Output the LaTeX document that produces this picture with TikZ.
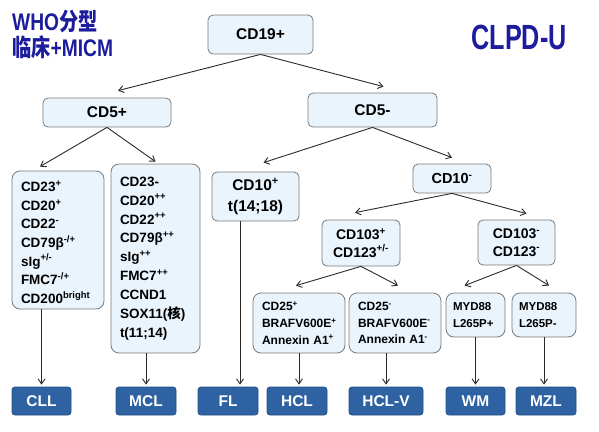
\documentclass[tikz,border=0pt]{standalone}
\usepackage{fontspec}
\setmainfont{Liberation Sans}
\newfontfamily\cjk{Noto Sans CJK SC}
\usetikzlibrary{arrows.meta}
\definecolor{boxfill}{HTML}{E9F4FC}
\definecolor{boxline}{HTML}{7A7A7A}
\definecolor{dxfill}{HTML}{2E62A2}
\definecolor{dxline}{HTML}{1F4F86}
\definecolor{titleblue}{HTML}{1C1C9C}
\definecolor{arrowgray}{HTML}{2A2A2A}

\begin{document}
\begin{tikzpicture}[x=1pt,y=-1pt,
    gatebox/.style={draw=boxline,fill=boxfill,rounded corners=5pt,line width=0.8pt,
        inner sep=0pt,align=center,font=\bfseries\fontsize{15.5}{21}\selectfont},
    listbox/.style={draw=boxline,fill=boxfill,rounded corners=8pt,line width=0.8pt,
        inner xsep=9pt,inner ysep=0pt,align=left},
    dxbox/.style={draw=dxline,fill=dxfill,text=white,rounded corners=3pt,line width=0.8pt,
        inner sep=0pt,minimum height=28pt,font=\bfseries\fontsize{15.5}{18}\selectfont}]
\useasboundingbox (0,0) rectangle (599,431);

% titles
\node[titleblue,anchor=base west,inner sep=0pt,font=\bfseries\fontsize{24}{26}\selectfont] (who1) at (12,30)
    {\scalebox{0.8}[1]{WHO{\cjk 分型}}};
\node[titleblue,anchor=base west,inner sep=0pt,font=\bfseries\fontsize{24}{26}\selectfont] (who2) at (12,56)
    {\scalebox{0.8}[1]{{\cjk 临床}+MICM}};
\node[titleblue,inner sep=0pt,font=\bfseries\fontsize{35}{35}\selectfont] (clpd) at (519,37)
    {\scalebox{0.72}[1]{CLPD-U}};

% decision boxes
\node[gatebox,minimum width=105pt,minimum height=39pt] (cd19) at (260.5,34.5) {CD19+};
\node[gatebox,minimum width=128pt,minimum height=29pt] (cd5p) at (107,112.5) {CD5+};
\node[gatebox,minimum width=129pt,minimum height=34pt] (cd5m) at (372.5,110) {CD5-};
\node[gatebox,minimum width=87pt,minimum height=49pt] (cd10p) at (255.5,196.5)
    {CD10\textsuperscript{+}\\t(14;18)};
\node[gatebox,minimum width=78pt,minimum height=29pt,font=\bfseries\fontsize{14.5}{18}\selectfont] (cd10m) at (452,178.5)
    {CD10\textsuperscript{-}};
\node[gatebox,minimum width=78pt,minimum height=46pt,font=\bfseries\fontsize{14}{17.5}\selectfont] (cd103p) at (361,243)
    {CD103\textsuperscript{+}\\CD123\textsuperscript{+/-}};
\node[gatebox,minimum width=77pt,minimum height=45pt,font=\bfseries\fontsize{14}{17.5}\selectfont] (cd103m) at (516.5,242.5)
    {CD103\textsuperscript{-}\\CD123\textsuperscript{-}};

% marker lists
\node[listbox,text width=74pt,minimum height=138pt,font=\bfseries\fontsize{13.5}{18.6}\selectfont] (cllbox) at (58,240)
    {\rule{0pt}{15pt}CD23\textsuperscript{+}\\CD20\textsuperscript{+}\\CD22\textsuperscript{-}\\CD79β\textsuperscript{-/+}\\
     sIg\textsuperscript{+/-}\\FMC7\textsuperscript{-/+}\\CD200\textsuperscript{bright}};
\node[listbox,text width=71pt,minimum height=189pt,font=\bfseries\fontsize{13.5}{18.9}\selectfont] (mclbox) at (155.5,258.5)
    {CD23-\\CD20\textsuperscript{++}\\CD22\textsuperscript{++}\\CD79β\textsuperscript{++}\\sIg\textsuperscript{++}\\
     FMC7\textsuperscript{++}\\CCND1\\SOX11({\cjk 核})\\t(11;14)};
\node[listbox,text width=74pt,minimum height=60pt,font=\bfseries\fontsize{12}{16.7}\selectfont] (hclbox) at (299,323)
    {CD25\textsuperscript{+}\\BRAFV600E\textsuperscript{+}\\Annexin A1\textsuperscript{+}};
\node[listbox,text width=74pt,minimum height=60pt,font=\bfseries\fontsize{12}{16.7}\selectfont] (hclvbox) at (395,323)
    {CD25\textsuperscript{-}\\BRAFV600E\textsuperscript{-}\\Annexin A1\textsuperscript{-}};
\node[listbox,inner xsep=7pt,text width=45pt,minimum height=44pt,font=\bfseries\fontsize{11.5}{16.5}\selectfont] (wmbox) at (475.5,315)
    {MYD88\\L265P+};
\node[listbox,inner xsep=7pt,text width=50pt,minimum height=44pt,font=\bfseries\fontsize{11.5}{16.5}\selectfont] (mzlbox) at (544,315)
    {MYD88\\L265P-};

% diagnoses
\node[dxbox,minimum width=59pt] (cll) at (41.5,401) {CLL};
\node[dxbox,minimum width=60pt] (mcl) at (146,401) {MCL};
\node[dxbox,minimum width=60pt] (fl) at (228,401) {FL};
\node[dxbox,minimum width=60pt] (hcl) at (297,401) {HCL};
\node[dxbox,minimum width=74pt] (hclv) at (386,401) {HCL-V};
\node[dxbox,minimum width=59pt] (wm) at (475.5,401) {WM};
\node[dxbox,minimum width=60pt] (mzl) at (546,401) {MZL};
\coordinate (flin) at ([xshift=12pt,yshift=2pt]fl.north);

\begin{scope}[>={Straight Barb[length=5pt,width=7pt]},
              every edge/.style={draw=arrowgray,line width=0.9pt}]
    \path [->] (cd19.south) edge ([xshift=11pt,yshift=7pt]cd5p.north);
    \path [->] (cd19.south) edge ([xshift=11pt,yshift=6pt]cd5m.north);
    \path [->] (cd5p.south) edge ([xshift=-18pt,yshift=4pt]cllbox.north);
    \path [->] (cd5p.south) edge ([yshift=2pt]mclbox.north);
    \path [->] (cd5m.south) edge ([xshift=8pt,yshift=9pt]cd10p.north);
    \path [->] (cd5m.south) edge ([yshift=6pt]cd10m.north);
    \path [->] (cd10m.south) edge ([xshift=-6pt,yshift=7pt]cd103p.north);
    \path [->] (cd10m.south) edge ([xshift=10pt,yshift=6pt]cd103m.north);
    \path [->] (cd103p.south) edge ([xshift=-3pt,yshift=7pt]hclbox.north);
    \path [->] (cd103p.south) edge ([xshift=3pt,yshift=7pt]hclvbox.north);
    \path [->] (cd103m.south) edge ([xshift=-11pt,yshift=7pt]wmbox.north);
    \path [->] (cd103m.south) edge ([xshift=5pt,yshift=7pt]mzlbox.north);
    \path [->] (cllbox.south -| cll.north) edge ([yshift=2pt]cll.north);
    \path [->] (mclbox.south -| mcl.north) edge ([yshift=2pt]mcl.north);
    \path [->] (cd10p.south -| flin) edge (flin);
    \path [->] (hclbox.south) edge ([yshift=2pt]hclbox.south |- hcl.north);
    \path [->] (hclvbox.south -| hclv.north) edge ([yshift=2pt]hclv.north);
    \path [->] (wmbox.south) edge ([yshift=2pt]wm.north);
    \path [->] (mzlbox.south) edge ([yshift=2pt]mzlbox.south |- mzl.north);
\end{scope}
\end{tikzpicture}
\end{document}
